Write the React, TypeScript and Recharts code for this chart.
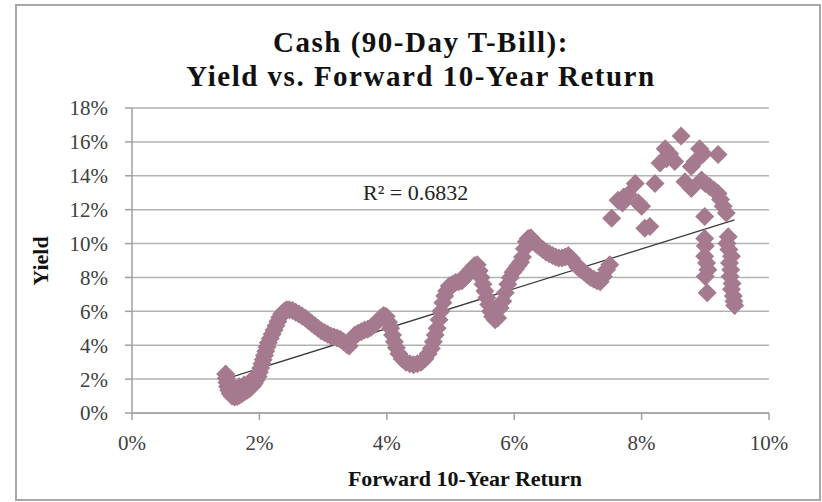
import React from 'react'
import { ScatterChart, Scatter, XAxis, YAxis, CartesianGrid, ReferenceLine } from 'recharts'

// axis ticks (percent)
const xTicks = [0, 2, 4, 6, 8, 10]
const yTicks = [0, 2, 4, 6, 8, 10, 12, 14, 16, 18]

// [forward 10-year return %, t-bill yield %]
const earlyBand: [number, number][] = [
  [1.47, 2.3], [1.48, 2.05], [1.49, 1.8], [1.5, 1.55], [1.52, 1.35], [1.54, 1.15], [1.57, 1.0],
  [1.61, 0.95], [1.65, 0.97], [1.69, 1.05], [1.73, 1.15], [1.77, 1.25], [1.81, 1.35], [1.85, 1.45],
  [1.89, 1.6], [1.92, 1.75], [1.95, 1.95], [1.98, 2.15],
  [1.6, 1.5], [1.68, 1.55], [1.76, 1.65], [1.84, 1.8], [1.9, 2.0],
  [2.0, 2.4], [2.02, 2.65], [2.04, 2.9], [2.06, 3.15], [2.08, 3.4], [2.1, 3.65], [2.12, 3.9],
  [2.14, 4.15], [2.17, 4.4], [2.2, 4.65], [2.23, 4.9], [2.26, 5.15], [2.29, 5.4], [2.32, 5.65],
  [2.35, 5.85], [2.39, 6.0], [2.43, 6.1], [2.47, 6.1],
  [2.52, 6.05], [2.57, 5.95], [2.62, 5.85], [2.67, 5.72], [2.72, 5.6], [2.77, 5.45], [2.82, 5.3],
  [2.87, 5.15], [2.92, 5.0], [2.97, 4.85], [3.02, 4.75], [3.07, 4.65], [3.12, 4.55], [3.17, 4.48],
  [3.22, 4.42], [3.27, 4.35], [3.32, 4.2], [3.37, 4.05], [3.41, 3.95],
  [3.45, 4.35], [3.5, 4.6], [3.55, 4.7], [3.6, 4.8], [3.65, 4.9], [3.7, 4.95], [3.75, 5.05],
  [3.8, 5.2], [3.85, 5.4], [3.9, 5.6], [3.95, 5.75], [3.99, 5.7],
]

const midBand: [number, number][] = [
  [4.03, 5.35], [4.06, 5.0], [4.09, 4.6], [4.12, 4.2], [4.15, 3.85], [4.19, 3.5], [4.24, 3.2],
  [4.3, 3.0], [4.36, 2.9], [4.42, 2.85], [4.48, 2.9], [4.54, 3.0], [4.6, 3.2], [4.65, 3.5],
  [4.7, 3.8], [4.73, 4.2], [4.76, 4.6], [4.79, 5.0], [4.82, 5.5], [4.85, 6.0], [4.88, 6.5],
  [4.91, 6.9], [4.94, 7.2], [4.98, 7.5], [5.03, 7.6], [5.08, 7.7], [5.13, 7.75], [5.18, 7.8],
  [5.23, 8.0], [5.28, 8.3], [5.33, 8.5], [5.38, 8.7], [5.42, 8.75],
  [5.45, 8.4], [5.48, 8.0], [5.51, 7.6], [5.54, 7.2], [5.57, 6.8], [5.6, 6.4], [5.63, 6.0],
  [5.66, 5.7], [5.7, 5.5], [5.74, 5.6],
  [5.78, 6.2], [5.82, 6.6], [5.86, 7.1], [5.9, 7.6], [5.94, 8.0], [5.98, 8.3], [6.02, 8.5],
  [6.06, 8.7], [6.1, 8.9], [6.13, 9.2], [6.16, 9.7], [6.19, 10.1], [6.22, 10.3], [6.26, 10.35],
]

const lateBand: [number, number][] = [
  [6.3, 10.1], [6.35, 9.95], [6.4, 9.8], [6.45, 9.65], [6.5, 9.5], [6.55, 9.4], [6.6, 9.3],
  [6.65, 9.2], [6.7, 9.15], [6.75, 9.15], [6.8, 9.2], [6.85, 9.3], [6.9, 9.1], [6.95, 8.85],
  [7.0, 8.6], [7.05, 8.45], [7.1, 8.3], [7.15, 8.15], [7.2, 8.0], [7.25, 7.9], [7.3, 7.8],
  [7.35, 7.75], [7.4, 8.05], [7.45, 8.45], [7.5, 8.75],
]

const highYieldCluster: [number, number][] = [
  [7.53, 11.5], [7.63, 12.55], [7.7, 12.4], [7.72, 12.75], [7.79, 12.9], [7.9, 13.55], [7.95, 12.4],
  [8.0, 12.2], [8.05, 10.9], [8.13, 11.0], [8.21, 13.55], [8.29, 14.75], [8.37, 15.6], [8.39, 15.0],
  [8.44, 15.3], [8.52, 14.85], [8.62, 16.35], [8.68, 13.65], [8.78, 13.25], [8.78, 14.55],
  [8.84, 14.85], [8.91, 15.6], [8.97, 15.3], [8.94, 13.75], [9.0, 13.55], [9.07, 13.35],
  [9.14, 13.15], [9.2, 15.25], [9.2, 12.95], [9.24, 12.6], [9.28, 12.2], [9.33, 11.8],
  [8.99, 11.6], [8.99, 10.3], [9.0, 9.85], [8.99, 9.25], [9.02, 8.85], [9.04, 8.45], [9.0, 8.05],
  [9.03, 7.1],
  [9.36, 10.4], [9.34, 10.0], [9.37, 9.65], [9.41, 9.25], [9.38, 8.85], [9.4, 8.45], [9.39, 8.05],
  [9.42, 7.65], [9.41, 7.3], [9.44, 6.9], [9.45, 6.6], [9.46, 6.35],
]

// linear trendline ends as drawn
const trendReturn = [1.46, 9.46]
const trendYield = [2.0, 11.4]

const rSquared = '0.6832'
const titleLines = ['Cash (90-Day T-Bill):', 'Yield vs. Forward 10-Year Return']

const serif = "'Liberation Serif', 'Times New Roman', serif"
const markerColor = '#a57a8e'
const gridColor = '#b2b2b2'

const points = [...earlyBand, ...midBand, ...lateBand, ...highYieldCluster].map(([x, y]) => ({ x, y }))

// excel style square diamond
const Diamond = (props: any) => {
  const { cx, cy } = props
  if (cx == null || cy == null) return null
  const r = 9.5
  return (
    <polygon
      points={`${cx},${cy - r} ${cx + r},${cy} ${cx},${cy + r} ${cx - r},${cy}`}
      fill={markerColor}
    />
  )
}

const pct = (v: number) => `${v}%`

export default function App() {
  return (
    <div style={{ position: 'absolute', left: 0, top: 0, width: 822, height: 502, background: '#fff', fontFamily: serif }}>
      <div
        style={{
          position: 'absolute',
          left: 15,
          top: 4,
          width: 806,
          height: 497,
          border: '2px solid #a8a8a8',
          boxSizing: 'border-box',
        }}
      />
      <div style={{ position: 'absolute', left: 0, top: 0 }}>
        <ScatterChart width={822} height={502} margin={{ top: 108, right: 53, bottom: 0, left: 0 }}>
          <CartesianGrid vertical={false} stroke={gridColor} strokeWidth={1.5} />
          <XAxis
            type='number'
            dataKey='x'
            domain={[0, 10]}
            ticks={xTicks}
            interval={0}
            tickFormatter={pct}
            height={89}
            tickSize={7}
            tickMargin={15}
            axisLine={{ stroke: '#a0a0a0', strokeWidth: 1.5 }}
            tickLine={{ stroke: '#a0a0a0', strokeWidth: 1.5 }}
            tick={{ fill: '#404040', fontSize: 21, fontFamily: serif }}
          />
          <YAxis
            type='number'
            dataKey='y'
            domain={[0, 18]}
            ticks={yTicks}
            interval={0}
            tickFormatter={pct}
            width={132}
            tickSize={7}
            tickMargin={17}
            axisLine={{ stroke: '#a0a0a0', strokeWidth: 1.5 }}
            tickLine={{ stroke: '#a0a0a0', strokeWidth: 1.5 }}
            tick={{ fill: '#404040', fontSize: 21, fontFamily: serif }}
          />
          <Scatter data={points} shape={Diamond} isAnimationActive={false} />
          <ReferenceLine
            segment={[
              { x: trendReturn[0], y: trendYield[0] },
              { x: trendReturn[1], y: trendYield[1] },
            ]}
            stroke='#3c3c3c'
            strokeWidth={1.3}
          />
        </ScatterChart>
      </div>
      {titleLines.map((line, i) => (
        <div
          key={line}
          style={{
            position: 'absolute',
            left: 0,
            top: 25 + i * 34,
            width: 842,
            height: 34,
            textAlign: 'center',
            fontSize: 29,
            lineHeight: '34px',
            letterSpacing: 1.5,
            fontWeight: 'bold',
            color: '#111',
            whiteSpace: 'nowrap',
          }}
        >
          {line}
        </div>
      ))}
      <div style={{ position: 'absolute', left: 363, top: 180, fontSize: 22, lineHeight: '26px', color: '#222', whiteSpace: 'nowrap' }}>
        R² = {rSquared}
      </div>
      <div
        style={{
          position: 'absolute',
          left: 41,
          top: 261,
          transform: 'translate(-50%, -50%) rotate(-90deg)',
          fontSize: 22,
          fontWeight: 'bold',
          color: '#111',
          whiteSpace: 'nowrap',
        }}
      >
        Yield
      </div>
      <div
        style={{
          position: 'absolute',
          left: 465,
          top: 479,
          transform: 'translate(-50%, -50%)',
          fontSize: 22,
          fontWeight: 'bold',
          color: '#111',
          whiteSpace: 'nowrap',
        }}
      >
        Forward 10-Year Return
      </div>
    </div>
  )
}
